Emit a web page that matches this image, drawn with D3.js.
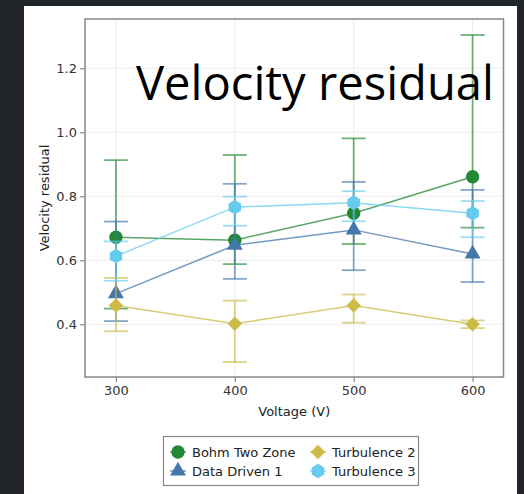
<!DOCTYPE html>
<html><head><meta charset="utf-8">
<script src="https://cdn.jsdelivr.net/npm/d3@7"></script>
<style>
html,body{margin:0;padding:0;background:#212529;}
svg{display:block;}
</style></head>
<body>
<script>
const voltages = [300, 400, 500, 600];
const seriesNames = ["Bohm Two Zone", "Data Driven 1", "Turbulence 2", "Turbulence 3"];
const bohmMean = [0.672, 0.663, 0.747, 0.861];
const bohmLow  = [0.449, 0.588, 0.651, 0.702];
const bohmHigh = [0.913, 0.929, 0.981, 1.304];
const dd1Mean = [0.496, 0.647, 0.695, 0.620];
const dd1Low  = [0.410, 0.542, 0.569, 0.532];
const dd1High = [0.721, 0.839, 0.845, 0.820];
const turb2Mean = [0.459, 0.402, 0.459, 0.400];
const turb2Low  = [0.378, 0.282, 0.405, 0.388];
const turb2High = [0.545, 0.474, 0.493, 0.412];
const turb3Mean = [0.613, 0.766, 0.780, 0.747];
const turb3Low  = [0.536, 0.708, 0.722, 0.672];
const turb3High = [0.659, 0.799, 0.816, 0.785];
const yTicks = [0.4, 0.6, 0.8, 1.0, 1.2];
const xTicks = [300, 400, 500, 600];
const colors = ["#228833", "#4477AA", "#CCBB44", "#66CCEE"];
const shapes = ["circle", "triangle", "diamond", "hexagon"];

const series = [
  {name: seriesNames[0], mean: bohmMean, lo: bohmLow, hi: bohmHigh},
  {name: seriesNames[1], mean: dd1Mean, lo: dd1Low, hi: dd1High},
  {name: seriesNames[2], mean: turb2Mean, lo: turb2Low, hi: turb2High},
  {name: seriesNames[3], mean: turb3Mean, lo: turb3Low, hi: turb3High}
];

const W = 524, H = 494;
const svg = d3.select("body").append("svg").attr("width", W).attr("height", H);
svg.append("rect").attr("x", 0).attr("y", 0).attr("width", W).attr("height", H).attr("fill", "#212529");
svg.append("rect").attr("x", 24).attr("y", 6).attr("width", 493).attr("height", H - 6).attr("fill", "#ffffff");

const L = 85, R = 503.5, T = 19, B = 377;
const x = d3.scaleLinear().domain([274, 626]).range([L, R]);
const y = d3.scaleLinear().domain([0.2353, 1.354]).range([B, T]);

// grid
const g = svg.append("g");
g.selectAll(".gx").data(xTicks).enter().append("line")
  .attr("x1", d => x(d)).attr("x2", d => x(d)).attr("y1", T).attr("y2", B)
  .attr("stroke", "#ebebeb").attr("stroke-width", 1);
g.selectAll(".gy").data(yTicks).enter().append("line")
  .attr("x1", L).attr("x2", R).attr("y1", d => y(d)).attr("y2", d => y(d))
  .attr("stroke", "#ebebeb").attr("stroke-width", 1);

// axes
const font = "DejaVu Sans, sans-serif";
const xAxis = d3.axisBottom(x).tickValues(xTicks).tickSize(5).tickPadding(4).tickFormat(d3.format("d"));
const yAxis = d3.axisLeft(y).tickValues(yTicks).tickSize(5).tickPadding(3).tickFormat(d3.format(".1f"));
const gx = svg.append("g").attr("transform", `translate(0,${B})`).call(xAxis);
const gy = svg.append("g").attr("transform", `translate(${L},0)`).call(yAxis);
[gx, gy].forEach(a => {
  a.select(".domain").remove();
  a.selectAll(".tick line").attr("stroke", "#888").attr("stroke-width", 1.2);
  a.selectAll(".tick text").attr("fill", "#333").style("font-family", font).style("font-size", "13px");
});

// frame
svg.append("rect").attr("x", L).attr("y", T).attr("width", R - L).attr("height", B - T)
  .attr("fill", "none").attr("stroke", "#888").attr("stroke-width", 1.5);

// labels
svg.append("text").attr("x", (L + R) / 2).attr("y", 416).attr("text-anchor", "middle")
  .style("font-family", font).style("font-size", "13px").attr("fill", "#222").text("Voltage (V)");
svg.append("text").attr("transform", `translate(49,${(T + B) / 2}) rotate(-90)`).attr("text-anchor", "middle")
  .style("font-family", font).style("font-size", "13px").attr("fill", "#222").text("Velocity residual");

function hexPath(r) {
  const pts = d3.range(6).map(i => {
    const a = Math.PI / 2 + i * Math.PI / 3;
    return [r * Math.cos(a), r * Math.sin(a)];
  });
  return "M" + pts.map(p => p.join(",")).join("L") + "Z";
}
function markerPath(shape) {
  if (shape === "circle") return d3.symbol(d3.symbolCircle, 140)();
  if (shape === "triangle") return d3.symbol(d3.symbolTriangle, 110)();
  if (shape === "diamond") return d3.symbol(d3.symbolSquare, 105)();
  return hexPath(7.2);
}
function markerTransform(shape, px, py) {
  if (shape === "diamond") return `translate(${px},${py}) rotate(45)`;
  return `translate(${px},${py})`;
}

const line = d3.line().x(d => x(d[0])).y(d => y(d[1]));
const cap = 12;
series.forEach((s, i) => {
  const sg = svg.append("g");
  const c = colors[i];
  const pts = voltages.map((v, k) => [v, s.mean[k]]);
  sg.append("path").attr("d", line(pts)).attr("fill", "none").attr("stroke", c)
    .attr("stroke-width", 1.5).attr("stroke-opacity", 0.75);
  voltages.forEach((v, k) => {
    const eg = sg.append("g").attr("stroke", c).attr("stroke-width", 1.8).attr("stroke-opacity", 0.65);
    eg.append("line").attr("x1", x(v)).attr("x2", x(v)).attr("y1", y(s.lo[k])).attr("y2", y(s.hi[k]));
    eg.append("line").attr("x1", x(v) - cap).attr("x2", x(v) + cap).attr("y1", y(s.lo[k])).attr("y2", y(s.lo[k]));
    eg.append("line").attr("x1", x(v) - cap).attr("x2", x(v) + cap).attr("y1", y(s.hi[k])).attr("y2", y(s.hi[k]));
  });
  sg.selectAll(".m").data(pts).enter().append("path")
    .attr("d", markerPath(shapes[i]))
    .attr("transform", d => markerTransform(shapes[i], x(d[0]), y(d[1])))
    .attr("fill", c);
});

// title
const title = svg.append("text").attr("x", 136).attr("y", 100)
  .style("font-family", "Open Sans, sans-serif").style("font-size", "48px").attr("fill", "#000")
  .text("Velocity residual");
const tw = title.node().getComputedTextLength();
title.style("font-size", (48 * 358 / tw) + "px");

// legend
const lg = svg.append("g");
lg.append("rect").attr("x", 163.5).attr("y", 436.5).attr("width", 255).attr("height", 49)
  .attr("fill", "#fff").attr("stroke", "#888").attr("stroke-width", 1.2);
const legPos = [[178, 452], [178, 471], [318, 452], [318, 471]];
series.forEach((s, i) => {
  const [lx, ly] = legPos[i];
  lg.append("line").attr("x1", lx - 8).attr("x2", lx + 8).attr("y1", ly).attr("y2", ly)
    .attr("stroke", colors[i]).attr("stroke-width", 1.5).attr("stroke-opacity", 0.75);
  lg.append("path").attr("d", markerPath(shapes[i])).attr("transform", markerTransform(shapes[i], lx, ly))
    .attr("fill", colors[i]);
  lg.append("text").attr("x", lx + 14).attr("y", ly + 4.5)
    .style("font-family", font).style("font-size", "13px").attr("fill", "#222").text(s.name);
});
</script>
</body></html>
